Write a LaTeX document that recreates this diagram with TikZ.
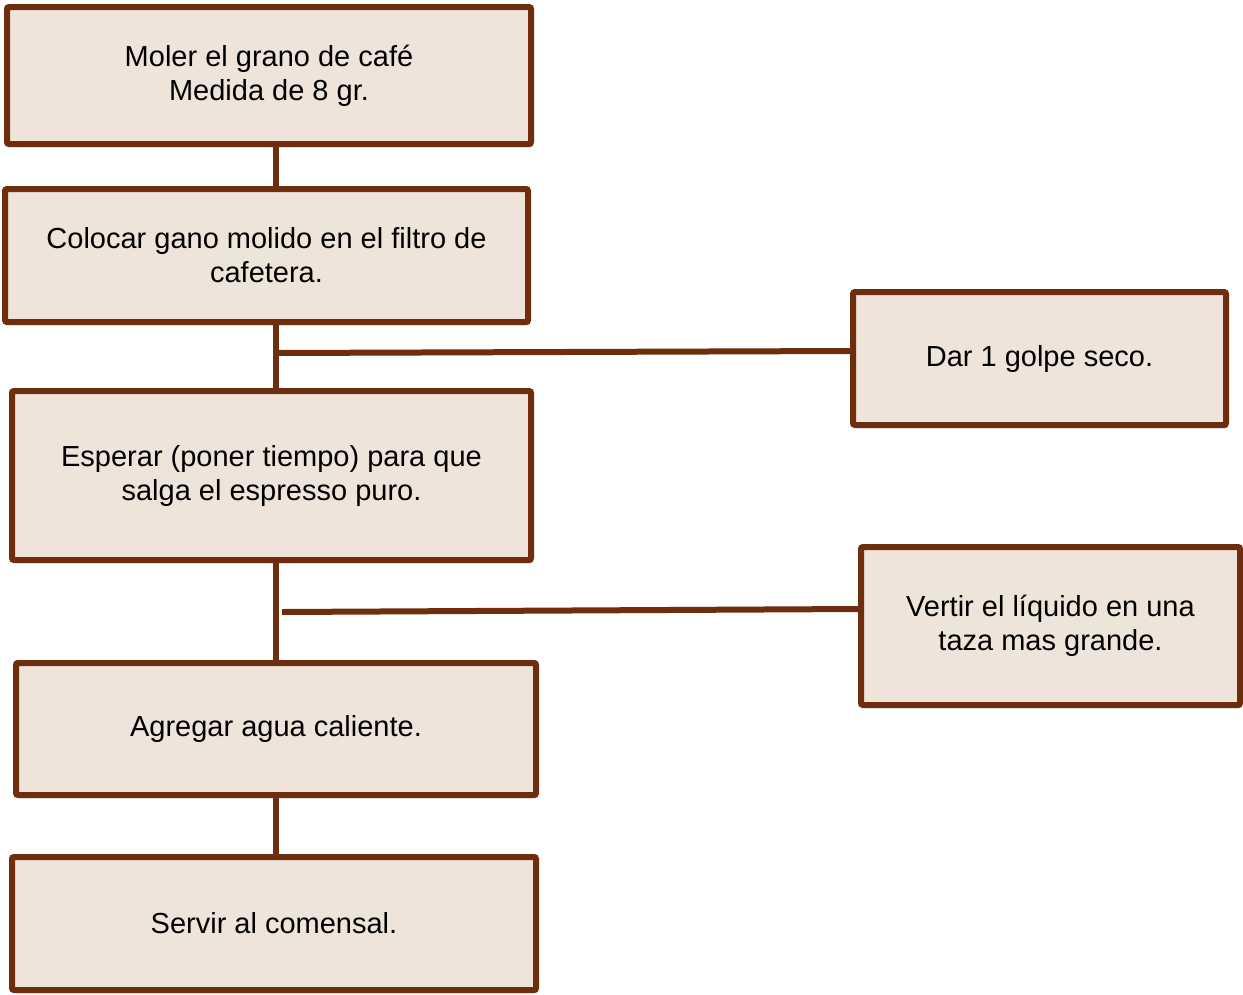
\documentclass[tikz,border=0pt]{standalone}
\usepackage{fontspec}
\setmainfont{Liberation Sans}
\usetikzlibrary{shadows}
\definecolor{brn}{HTML}{6E2E0E}
\definecolor{boxfill}{HTML}{EFE4DA}
\begin{document}
\begin{tikzpicture}[x=1pt,y=-1pt,
  stepbox/.style={draw=brn, fill=boxfill, line width=6pt, rounded corners=2pt,
    align=center, font=\fontsize{29}{34}\selectfont, inner sep=0pt,
    drop shadow={shadow xshift=2pt, shadow yshift=-3pt, opacity=0.3, fill=black}},
  conn/.style={draw=brn, line width=6pt}]
\useasboundingbox[fill=white] (0,0) rectangle (1243,994);
\node[stepbox, minimum width=524pt, minimum height=137pt] (b1) at (269,75.5) {Moler el grano de café\\Medida de 8 gr.};
\node[stepbox, minimum width=523pt, minimum height=133pt] (b2) at (266.5,255.5) {Colocar gano molido en el filtro de\\cafetera.};
\node[stepbox, minimum width=519pt, minimum height=169pt] (b3) at (271.5,475.5) {Esperar (poner tiempo) para que\\salga el espresso puro.};
\node[stepbox, minimum width=520pt, minimum height=132pt] (b4) at (276,729) {Agregar agua caliente.};
\node[stepbox, minimum width=524pt, minimum height=133pt] (b5) at (274,923.5) {Servir al comensal.};
\node[stepbox, minimum width=373pt, minimum height=133pt] (b6) at (1039.5,358.5) {Dar 1 golpe seco.};
\node[stepbox, minimum width=379pt, minimum height=158pt] (b7) at (1050.5,626) {Vertir el líquido en una\\taza mas grande.};
\coordinate (sp) at (276,0);
\coordinate (j1) at (276,353);
\coordinate (e1) at (850,351);
\coordinate (j2) at (282,612);
\coordinate (e2) at (858,609);
\draw[conn] (b1.south -| sp) -- (b2.north -| sp);
\draw[conn] (b2.south -| sp) -- (b3.north -| sp);
\draw[conn] (b3.south -| sp) -- (b4.north -| sp);
\draw[conn] (b4.south -| sp) -- (b5.north -| sp);
\draw[conn] (j1) -- (e1);
\draw[conn] (j2) -- (e2);
\end{tikzpicture}
\end{document}
